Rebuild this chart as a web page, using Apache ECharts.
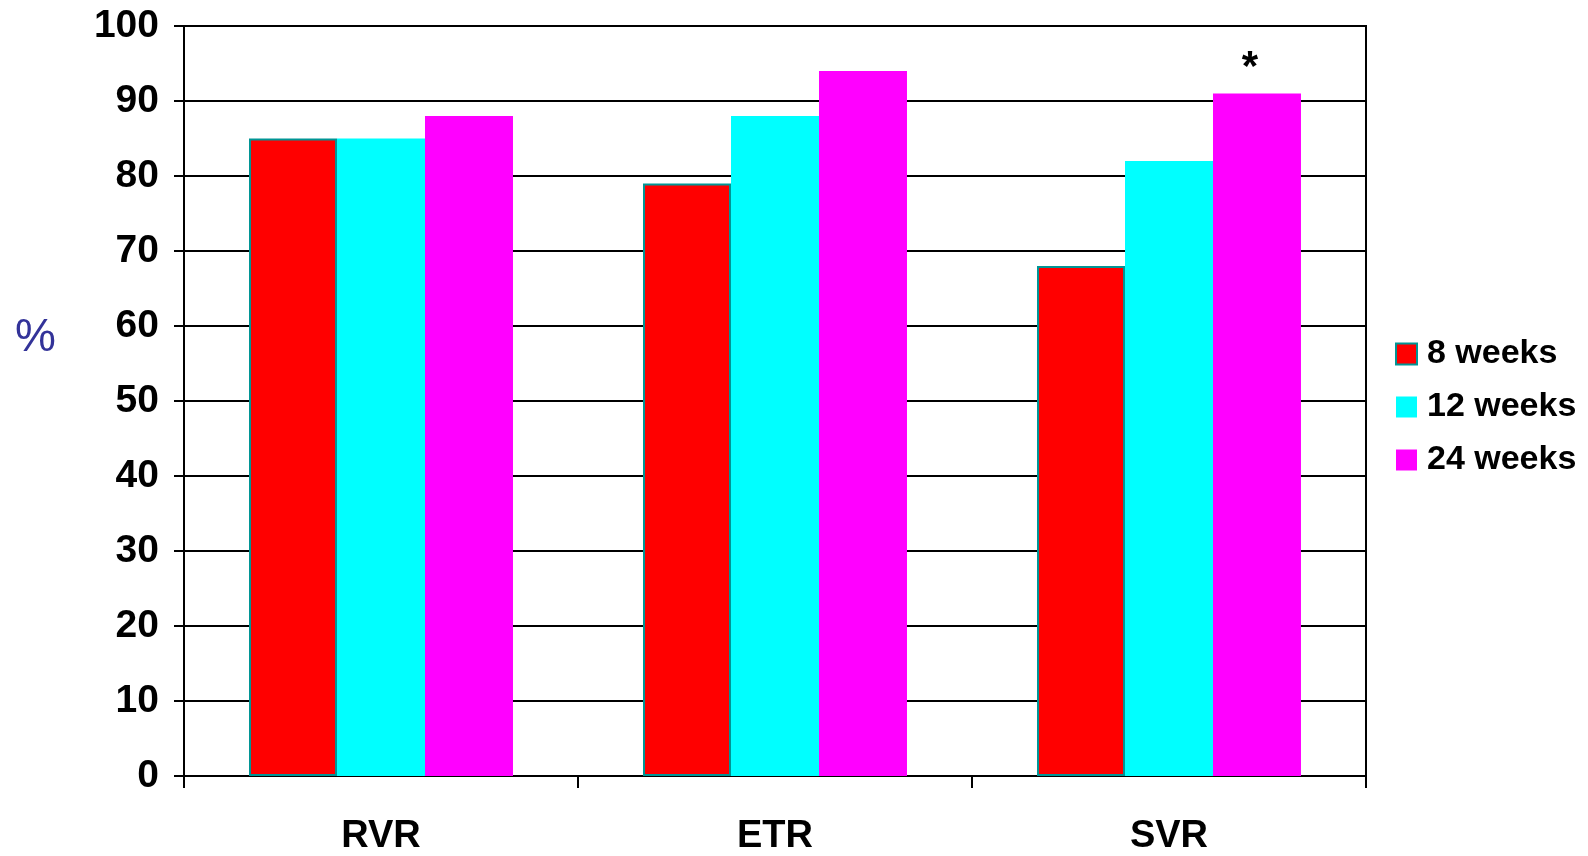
<!DOCTYPE html>
<html>
<head>
<meta charset="utf-8">
<title>Response rates by treatment duration</title>
<script src="https://cdn.jsdelivr.net/npm/echarts@6/dist/echarts.min.js"></script>
<style>
  html, body { margin: 0; padding: 0; background: #fff; }
  #chart { width: 1588px; height: 856px; }
</style>
</head>
<body>
<div id="chart"></div>
<script>
// Response categories along the x axis
const categories = ['RVR', 'ETR', 'SVR'];

// Percentage of patients responding, per treatment duration
const weeks8 = [85, 79, 68];
const weeks12 = [85, 88, 82];
const weeks24 = [88, 94, 91];

// Series names shown in the legend
const seriesNames = ['8 weeks', '12 weeks', '24 weeks'];

// Marker placed above significant bars (index into categories)
const significance = ['', '', '*'];

// Y axis range and step
const yMin = 0;
const yMax = 100;
const yStep = 10;

const FONT = '"Liberation Sans", Arial, sans-serif';

const chart = echarts.init(document.getElementById('chart'), null, { renderer: 'canvas' });

const barBase = {
  type: 'bar',
  barGap: '0%',
  barCategoryGap: '33%'
};

chart.setOption({
  animation: false,
  backgroundColor: '#ffffff',
  grid: {
    left: 184,
    right: 222,
    top: 26,
    bottom: 80,
    show: true,
    borderColor: '#000',
    borderWidth: 2,
    containLabel: false
  },
  legend: {
    orient: 'vertical',
    left: 1390,
    top: 332,
    itemWidth: 21,
    itemHeight: 21,
    itemGap: 19,
    icon: 'rect',
    textStyle: {
      fontFamily: FONT,
      fontWeight: 'bold',
      fontSize: 34,
      color: '#000',
      padding: [0, 0, 0, 5]
    },
    data: seriesNames
  },
  graphic: [{
    type: 'text',
    left: 15,
    top: 315,
    style: {
      text: '%',
      font: '46px "Liberation Sans", Arial, sans-serif',
      fill: '#333399'
    }
  }],
  xAxis: {
    type: 'category',
    data: categories,
    axisLine: { lineStyle: { color: '#000', width: 2 } },
    axisTick: { show: true, length: 12, lineStyle: { color: '#000', width: 2 } },
    axisLabel: {
      margin: 42,
      fontFamily: FONT,
      fontWeight: 'bold',
      fontSize: 38,
      color: '#000'
    },
    splitLine: { show: false }
  },
  yAxis: {
    type: 'value',
    min: yMin,
    max: yMax,
    interval: yStep,
    axisLine: { show: true, lineStyle: { color: '#000', width: 2 } },
    axisTick: { show: true, length: 10, lineStyle: { color: '#000', width: 2 } },
    axisLabel: {
      margin: 25,
      fontFamily: FONT,
      fontWeight: 'bold',
      fontSize: 39,
      color: '#000',
      padding: [7, 0, 0, 0]
    },
    splitLine: { show: true, lineStyle: { color: '#000', width: 2 } }
  },
  series: [
    Object.assign({}, barBase, {
      name: seriesNames[0],
      data: weeks8,
      itemStyle: { color: '#ff0000', borderColor: '#009595', borderWidth: 2 }
    }),
    Object.assign({}, barBase, {
      name: seriesNames[1],
      data: weeks12,
      itemStyle: { color: '#00ffff' }
    }),
    Object.assign({}, barBase, {
      name: seriesNames[2],
      data: weeks24,
      itemStyle: { color: '#ff00ff' },
      label: {
        show: true,
        position: 'top',
        distance: 4,
        offset: [-7, 0],
        formatter: (p) => significance[p.dataIndex],
        fontFamily: FONT,
        fontWeight: 'bold',
        fontSize: 42,
        color: '#000'
      }
    })
  ]
});
</script>
</body>
</html>
